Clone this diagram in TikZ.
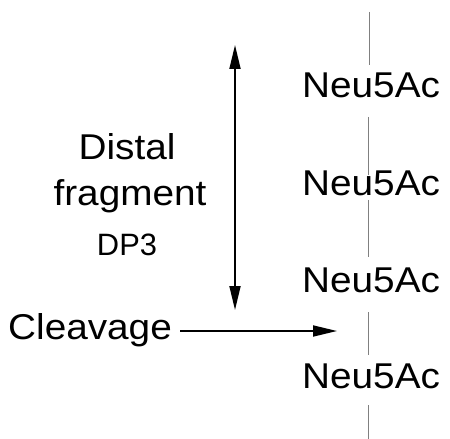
\documentclass[tikz,border=0pt]{standalone}
\usepackage{graphicx}
\usepackage{fontspec}
\setmainfont{Liberation Sans}
\usetikzlibrary{arrows.meta}
% slightly widened lettering
\newcommand\widetext[1]{\scalebox{1.08}[1]{#1}}
\begin{document}
\begin{tikzpicture}[x=1bp,y=-1bp,
  bigtext/.style={font=\fontsize{36}{42}\selectfont, inner sep=0pt},
  smalltext/.style={font=\fontsize{31}{36}\selectfont, inner sep=0pt},
  chain/.style={draw=black!50, line width=1bp},
  arr/.style={line width=1.8bp, -{Triangle[length=24bp,width=11bp]}},
  dblarr/.style={line width=1.8bp, {Triangle[length=24bp,width=11bp]}-{Triangle[length=24bp,width=11bp]}}]
\useasboundingbox (0,0) rectangle (450,439);

% sugar residues along the chain
\node[bigtext, anchor=base west] (n1) at (302,98)  {\widetext{Neu5Ac}};
\node[bigtext, anchor=base west] (n2) at (302,196) {\widetext{Neu5Ac}};
\node[bigtext, anchor=base west] (n3) at (302,292) {\widetext{Neu5Ac}};
\node[bigtext, anchor=base west] (n4) at (302,388) {\widetext{Neu5Ac}};

% backbone segments between residues
\coordinate (a1) at (369,12);  \coordinate (b1) at (369,65);
\coordinate (a2) at (368,117); \coordinate (b2) at (368,175);
\coordinate (a3) at (368,200); \coordinate (b3) at (368,257);
\coordinate (a4) at (368,312); \coordinate (b4) at (368,355);
\coordinate (a5) at (368,405); \coordinate (b5) at (368,439);
\draw[chain] (a1) -- (b1);
\draw[chain] (a2) -- (b2);
\draw[chain] (a3) -- (b3);
\draw[chain] (a4) -- (b4);
\draw[chain] (a5) -- (b5);

% fragment span
\coordinate (ftop) at (235,45);
\coordinate (fbot) at (235,310);
\draw[dblarr] (ftop) -- (fbot);

\node[bigtext, anchor=base] (distal) at (127,160) {\widetext{Distal}};
\node[bigtext, anchor=base] (frag) at (130,206) {\widetext{fragment}};
\node[smalltext, anchor=base] (dp) at (127,255) {DP3};

% cleavage site
\node[bigtext, anchor=base west] (cleav) at (8,339) {\widetext{Cleavage}};
\coordinate (cut) at (337,331);
\draw[arr] ([xshift=8bp]cleav.east |- cut) -- (cut);
\end{tikzpicture}
\end{document}
